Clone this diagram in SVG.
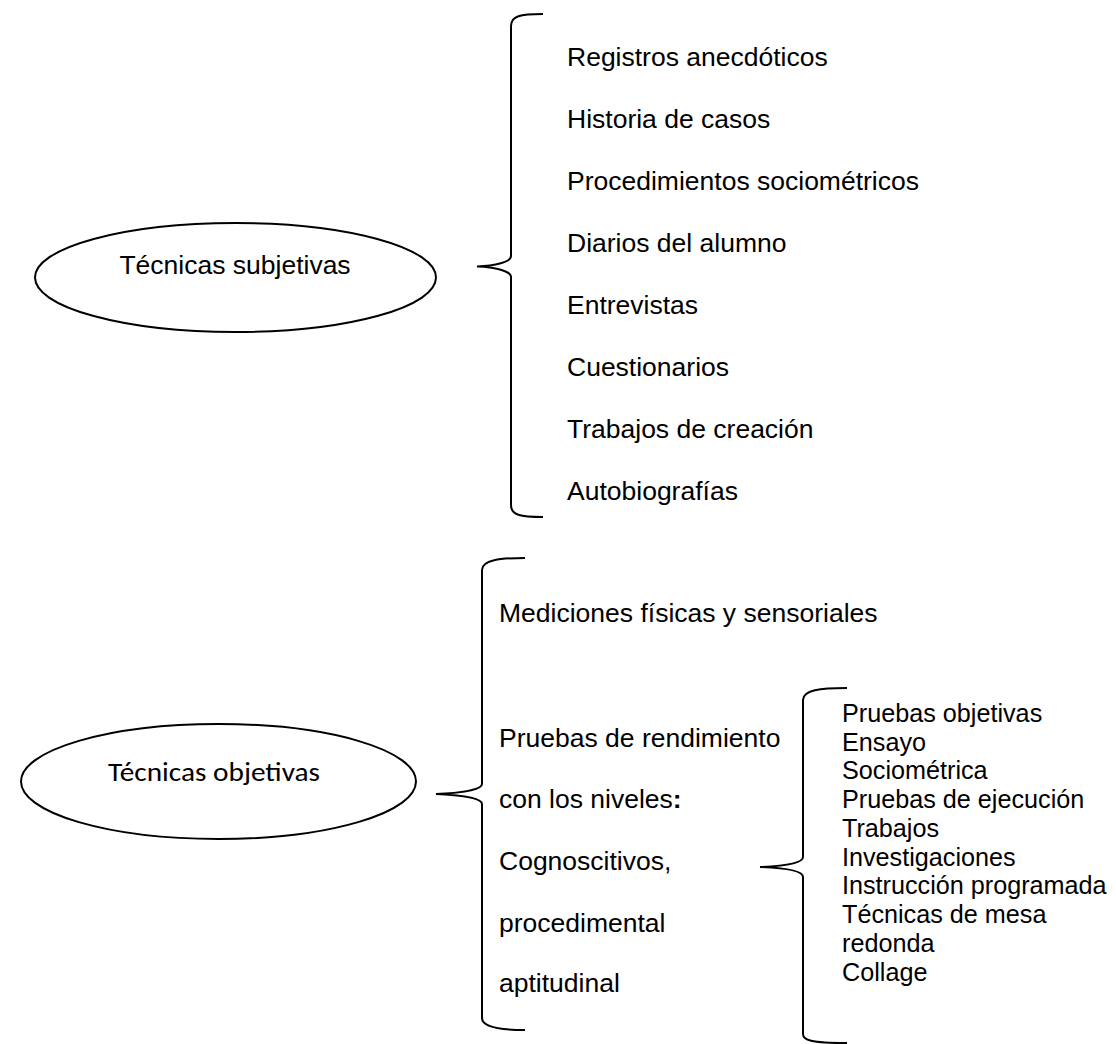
<svg xmlns="http://www.w3.org/2000/svg" width="1116" height="1044" viewBox="0 0 1116 1044">
<style>
  .bg { fill: #ffffff; }
  .oval { fill: #ffffff; stroke: #000000; stroke-width: 2; }
  .brace { fill: none; stroke: #000000; stroke-width: 2; stroke-linecap: butt; }
  .t { font-family: "Liberation Sans", Arial, sans-serif; font-size: 26.5px; fill: #000000; }
  .s { font-family: "Liberation Sans", Arial, sans-serif; font-size: 25.2px; fill: #000000; }
  .c { font-family: Carlito, Calibri, "Open Sans", sans-serif; font-size: 27.5px; fill: #000000; }
</style>
<rect class="bg" x="0" y="0" width="1116" height="1044"/>

<g id="node-subjetivas">
  <ellipse class="oval" cx="235.5" cy="277.5" rx="200.5" ry="54.5"/>
  <text class="t" x="235" y="274" text-anchor="middle">Técnicas subjetivas</text>
</g>

<g id="node-objetivas">
  <ellipse class="oval" cx="218.5" cy="781.5" rx="197.5" ry="57.5"/>
  <text class="c" x="108" y="781" textLength="212" lengthAdjust="spacingAndGlyphs">Técnicas objetivas</text>
</g>

<g id="connectors">
  <path class="brace" d="M543,14 C520,14 511,16 511,26 L511,256 C511,262 495,266 477,266.5 C495,267 511,271 511,277 L511,505 C511,515 520,517 543,517"/>
  <path class="brace" d="M525,558 C500,558 482,560 482,570 L482,784 C482,790 460,793 436,794 C460,795 482,798 482,804 L482,1018 C482,1026 495,1030 525,1030"/>
  <path class="brace" d="M847,688 C820,688 803,690 803,700 L803,857 C803,863 785,866 760,867 C785,868 803,871 803,877 L803,1034 C803,1040 810,1043 847,1043"/>
</g>

<g id="list-subjetivas">
  <text class="t" x="567" y="66">Registros anecdóticos</text>
  <text class="t" x="567" y="128">Historia de casos</text>
  <text class="t" x="567" y="190">Procedimientos sociométricos</text>
  <text class="t" x="567" y="252">Diarios del alumno</text>
  <text class="t" x="567" y="314">Entrevistas</text>
  <text class="t" x="567" y="376">Cuestionarios</text>
  <text class="t" x="567" y="438">Trabajos de creación</text>
  <text class="t" x="567" y="500">Autobiografías</text>
</g>

<g id="list-objetivas">
  <text class="t" x="499" y="622">Mediciones físicas y sensoriales</text>
  <text class="t" x="499" y="747">Pruebas de rendimiento</text>
  <text class="t" x="499" y="808">con los niveles<tspan font-weight="bold">:</tspan></text>
  <text class="t" x="499" y="870">Cognoscitivos,</text>
  <text class="t" x="499" y="932">procedimental</text>
  <text class="t" x="499" y="992">aptitudinal</text>
</g>

<g id="list-rendimiento">
  <text class="s" x="842" y="722">Pruebas objetivas</text>
  <text class="s" x="842" y="751">Ensayo</text>
  <text class="s" x="842" y="779">Sociométrica</text>
  <text class="s" x="842" y="808">Pruebas de ejecución</text>
  <text class="s" x="842" y="837">Trabajos</text>
  <text class="s" x="842" y="866">Investigaciones</text>
  <text class="s" x="842" y="894">Instrucción programada</text>
  <text class="s" x="842" y="923">Técnicas de mesa</text>
  <text class="s" x="842" y="952">redonda</text>
  <text class="s" x="842" y="981">Collage</text>
</g>
</svg>
